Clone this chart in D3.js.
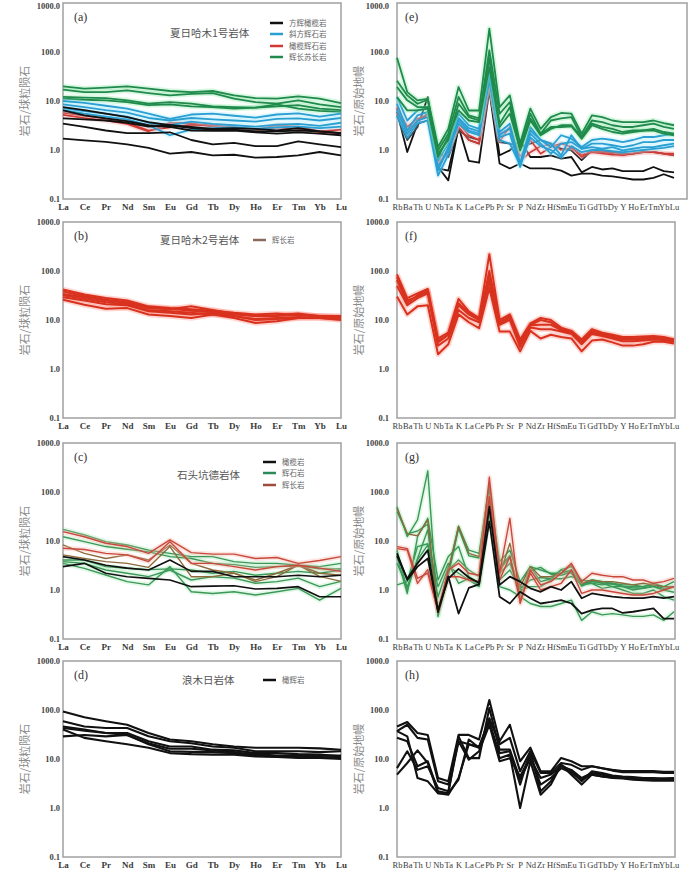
<!DOCTYPE html>
<html>
<head>
<meta charset="utf-8">
<script src="https://cdn.jsdelivr.net/npm/d3@7"></script>
<style>
  body { margin: 0; background: #fff; }
  svg { display: block; }
</style>
</head>
<body>
<script>
// categories
const REE = ['La','Ce','Pr','Nd','Sm','Eu','Gd','Tb','Dy','Ho','Er','Tm','Yb','Lu'];
const SPIDER = ['Rb','Ba','Th','U','Nb','Ta','K','La','Ce','Pb','Pr','Sr','P','Nd','Zr','Hf','Sm','Eu','Ti','Gd','Tb','Dy','Y','Ho','Er','Tm','Yb','Lu'];
const Y_TICKS = [0.1, 1, 10, 100, 1000];

// (a) 夏日哈木1号岩体, REE
const A_BLACK = [
  [7.5,6.5,5.5,4.7,3.7,3.2,2.95,2.7,2.8,2.7,2.5,2.8,2.4,2.2],
  [6.4,5.1,4.4,3.9,3.2,2.95,2.5,2.45,2.5,2.3,2.15,2.3,2.15,2.0],
  [4.4,4.2,4.0,3.6,3.0,3.2,2.8,2.6,2.6,2.4,2.4,2.5,2.4,2.2],
  [3.45,2.95,2.5,2.2,2.2,2.3,1.6,1.3,1.4,1.2,1.2,1.5,1.3,1.15],
  [1.7,1.57,1.46,1.3,1.1,0.84,0.91,0.78,0.8,0.7,0.72,0.78,0.91,0.78]
];
const A_BLUE = [
  [10,9.2,8,7,5.5,4.3,5.3,5.5,5,4.6,5.3,5.6,4.8,5.5],
  [8.5,7.5,6.5,5.8,4.5,4,4.5,4.2,4,3.8,4.3,4.4,4,4.5],
  [7.2,6.2,5.5,4.8,3.6,3.2,3.8,3.4,3.2,3,3.3,3.4,3.1,3.6],
  [6.5,5.5,4.8,4.2,3.2,2,2.6,2.8,2.9,2.7,2.9,3,2.8,3]
];
const A_RED = [
  [5.8,5,4.4,3.6,2.5,2.9,3.3,3.2,2.9,2.6,3.2,3,2.4,2.6],
  [5.2,4.5,4,3.4,2.4,3.6,3.5,3,2.8,2.5,2.9,2.7,2.3,2.2]
];
const A_GREEN = [
  [19.9,17.9,18.7,19.9,17.9,16,15.2,16,13,11.5,11.2,12.4,11.2,9.1],
  [17,15.2,15.2,16.5,14.5,13,14,14.5,11.2,9.5,8.8,10.3,8.5,7.5],
  [12.1,11.7,11.5,10.3,8.8,9.5,8.8,7.8,7.5,7.3,7.8,8.2,7,6.5],
  [11.2,10.6,10.3,9.5,8.2,8.5,7.8,7.5,7,7.3,8.5,7,6.3,6]
];

// (b) 夏日哈木2号岩体, REE
const B_RED = [
  [42,33,28,25,19,17.5,16.5,15.5,14,13,13.5,12.5,12,12],
  [38,31,26,23,18,17,15.5,14.5,13,12,12,13,12,11],
  [34,29,25,22.5,17.5,16.5,19,16,13.5,12,12.5,13.5,12,11.5],
  [32,27,23,21,16,15,14,13,12,10.5,11,11.5,11,10.5],
  [29,25,21,20,15,14,13,14,12,10,10.5,11,11,10],
  [26,20.5,17,17.5,13,12,11,13,11,8.7,9.4,11,11.5,11]
];

// (c) 石头坑德岩体, REE
const C_BLACK = [
  [4.8,4.1,3.2,2.8,2.56,4.1,2.4,2.4,1.87,1.87,1.87,2,1.87,2],
  [3,3.5,2.2,1.87,1.73,1.6,1.17,1.2,1.22,1.05,1.08,1.17,0.73,0.73]
];
const C_GREEN = [
  [17.3,13.3,9.7,8.3,6.5,5.6,4.8,4.8,3.8,3.5,3.5,3.2,3,3.5],
  [12.2,9.7,7.7,6.8,6,4.8,4.4,3.5,3.3,2.9,3,3.1,2.7,2.7],
  [3.8,3.5,2.56,2.2,1.87,2.56,1.6,1.87,1.75,1.37,1.48,1.75,1.17,1.5],
  [3.5,2.77,2.02,1.48,1.27,3,0.92,0.85,0.92,0.79,0.92,1.08,0.62,1.08],
  [4.1,4.1,3,2.77,2.6,2.7,2.56,2.2,2.4,2,2.2,2.4,2.2,2.56]
];
const C_RED = [
  [15.5,12.2,9,7.7,5.6,10.5,5.8,5.4,5.4,4.4,4.6,3.5,4,4.8],
  [7.1,6.7,5.6,5.2,3.8,9.7,3.5,3.5,3,2.56,3,3.2,2.8,2.4]
];
const C_BROWN = [
  [5.2,4.4,3.8,3.5,2.9,7.7,1.87,1.87,2.2,1.48,1.87,3.2,2.2,2],
  [8.3,5.6,4.4,5.2,4.1,8.3,3.5,2.56,2.2,1.6,2.2,3.2,1.9,1.5]
];

// (d) 浪木日岩体, REE
const D_BLACK = [
  [93,71,59,50,34,25,23,20,18,17,17,17,16.5,15.5],
  [59,46,43,43,29,23,21,18,17,14.4,14.4,14.4,13.8,14.4],
  [46,40,34,34,23,18,18,15.5,15,13.2,13.2,12.6,12.3,11.3],
  [43,38,34,31,21,16.2,16.2,15,13.8,11.7,11.3,10.9,10.9,10.5],
  [29,31,29,31,20,14.4,14,13.8,13.2,12.6,11.7,11.7,11.7,11.7],
  [40,27,23,20,17,13.2,12.6,12.3,12.3,11.3,11,10.5,10.5,10]
];

// (e) spider, 夏日哈木1号
const E_BLACK = [
  [6,0.91,3.45,4,0.45,0.24,2.95,0.6,0.55,16.5,0.53,0.42,0.53,0.42,0.42,0.42,0.38,0.3,0.33,0.33,0.3,0.29,0.27,0.25,0.25,0.27,0.32,0.27],
  [5.1,1.6,2.95,12,0.42,0.38,2.95,1.6,1.35,22,0.78,0.98,1.6,0.72,0.72,0.78,0.67,0.72,0.35,0.45,0.4,0.42,0.37,0.37,0.37,0.45,0.37,0.35],
  [7,2.15,4,5.5,0.84,0.72,2.5,1.84,1.6,18,1.45,1.35,1.15,1.35,1.6,1.35,1.06,0.98,0.62,0.98,0.91,0.91,0.84,0.84,0.91,0.91,0.84,0.78]
];
const E_RED = [
  [7.5,2.95,4.4,4.7,0.53,1.06,2.95,1.6,1.35,22,2.15,2.7,0.72,1.6,0.84,1.15,1.35,1.15,0.72,0.98,0.91,0.84,0.78,0.84,0.91,0.91,0.84,0.78],
  [6,2.5,4,5,0.5,0.9,3.5,2,1.6,30,1.5,3,0.6,0.9,1.2,1.3,1,1.1,0.8,0.9,0.85,0.8,0.8,0.85,0.9,0.9,0.85,0.85]
];
const E_BLUE = [
  [12,4,6.45,7.5,0.62,1.35,5.5,3.2,2.7,85,2.33,3.45,0.53,2.95,1.6,1.15,2,1.7,1.15,1.6,1.7,1.6,1.45,1.6,1.84,1.84,2,2.15],
  [8.8,2.5,5.1,6,0.38,1.15,4,2.5,2.15,26,1.84,2.15,0.45,2.15,1.35,0.84,1.35,1.45,1.06,1.35,1.35,1.25,1.15,1.25,1.45,1.45,1.6,1.6],
  [6.45,2.15,4,4.7,0.45,0.98,3.45,2.33,2,31,1.6,1.35,0.49,2.5,1.6,1.35,0.78,2,1.06,1.15,1.06,1.15,0.98,1.06,1.15,1.15,1.25,1.35],
  [5,1.8,3.5,4,0.3,0.8,4.5,2.8,2.4,40,2,2.8,0.5,1.8,1.2,1,0.7,1.2,0.9,1,1,0.95,0.9,0.95,1,1.05,1.1,1.2]
];
const E_GREEN = [
  [76,15.2,10.3,11.1,1.15,2.7,19.3,6.4,6.4,300,7.5,13,1.35,7,2.7,4.7,5.7,5.5,2.15,5.1,4.7,4,3.7,3.7,3.7,4,3.55,3.2],
  [26,13,8.8,10.6,0.98,2.15,12.1,5.1,4.4,108,5.5,9.5,1.15,5.5,2.15,4,4.4,4.7,1.84,4,3.7,3.2,2.95,2.95,3.2,3.45,2.95,2.7],
  [19.3,10.3,7.5,7.5,0.84,1.6,8.8,4.7,4,73,3.45,7.5,0.98,4,2,2.7,3.2,3.2,1.84,3.45,2.95,2.7,2.33,2.5,2.5,2.7,2.33,2.15],
  [12.1,6.45,6.45,7,0.72,1.84,6.45,4,3.7,49,2.95,5.5,1.06,4.4,2.15,2.95,2.95,3.05,1.7,3.2,2.7,2.33,2.15,2.33,2.5,2.5,2.15,2]
];

// (f) spider, 夏日哈木2号
const F_RED = [
  [85,28,35,43,4.2,5.5,27,15,11,220,10,13,4,8.5,11,10,7,6,4,6.5,5.5,5,4.5,4.5,4.6,4.7,4.5,4],
  [65,22,32,40,3.5,5,20,13,10,100,9,12,3.3,7.8,8,8,6.2,5.5,3.5,5.5,5,4.5,4,4,4.1,4.2,4,3.8],
  [50,20,28,35,3,4.2,16,11,9,60,8,10,2.8,7,6.5,6.5,5.8,5.2,3.2,5.2,4.7,4.2,3.7,3.7,3.8,4,3.9,3.6],
  [30,13,19,20,2,3.2,13,9,6.8,45,5.8,5.8,2.3,6,4.2,5,4.5,4.2,2.3,3.8,4,3.5,3,3,3.2,3.6,3.6,3.3],
  [75,25,30,38,3.8,5,22,14,10.5,80,8.5,11,3.5,8,10,9,6.5,5.8,3.7,6,5.2,4.7,4.2,4.2,4.3,4.4,4.2,3.9]
];

// (g) spider, 石头坑德
const G_BLACK = [
  [5.6,1.6,3,4.4,0.39,1.7,2.7,1.8,1.4,50,1.27,1.87,1.48,1.08,0.92,1.17,1,1.48,0.68,0.85,0.79,0.73,0.7,0.68,0.68,0.73,0.68,0.73],
  [5,1.7,3.5,6.5,0.35,1.9,0.33,1.1,1.3,25,0.73,0.53,0.92,0.68,0.53,0.57,0.62,0.53,0.33,0.39,0.42,0.42,0.34,0.36,0.39,0.42,0.26,0.26]
];
const G_GREEN = [
  [50,12.3,27,270,0.29,2.2,20,6.5,5.6,130,2.56,4.8,0.73,3,2.56,2.2,2.2,2.56,1.27,1.6,1.48,1.37,1.27,1.27,1.17,1.37,1.17,1.48],
  [1.27,1.48,7.7,8.8,1.17,3.5,1.37,1.73,1.27,36,2.2,3.5,1,1.17,1.17,1.6,2.56,2.2,1.27,1.37,1.08,1.17,1,0.85,0.85,1,0.73,0.62],
  [4.8,0.85,12.2,29,1.6,4.8,7.7,1.87,1.4,80,3.8,6.5,1.48,3,1.48,1.7,1.7,1.87,1.6,1.48,1.37,1.17,1.17,1,1.08,1.17,1,1.17],
  [3.5,1.17,4.1,8.3,0.73,3,2.2,1.6,1.17,43,1.17,1,0.73,0.53,0.46,0.46,0.53,0.62,0.24,0.36,0.31,0.33,0.31,0.29,0.29,0.31,0.24,0.36],
  [6.5,1,4.4,17,0.39,2.56,4.1,2.56,1.87,58,1.6,2.56,1.08,1.6,1.8,1.7,2.6,3,1.37,1.37,1.27,1.37,1.17,1.17,1.17,1.27,1.08,1.17],
  [40,14,16,22,0.3,2,18,5,4.5,100,3,5,0.8,2.5,2.9,2.1,2,2.3,1.2,1.5,1.4,1.3,1.2,1.1,1.1,1.2,1,0.9]
];
const G_RED = [
  [7.7,7,1.73,2.2,0.36,2.56,3.5,2.2,2,200,2.2,29,0.53,2.56,1.27,1.48,2.2,3.5,1.48,2.2,2,1.87,1.87,1.6,1.6,1.37,1.48,1.73],
  [7,6.5,1.37,2.6,0.38,1.87,1.87,1.6,1.5,80,1.6,4.8,0.6,2.2,1,1.17,1.37,2.56,0.85,1,1,0.92,0.85,0.79,0.79,0.85,1,1.17]
];
const G_BROWN = [
  [46,14,12.8,27,0.36,2.56,20,5.6,4.8,150,2,9,1.17,3,1.87,1.87,2.2,3.2,1.37,1.6,1.48,1.48,1.37,1.27,1.37,1.27,1.17,1.17]
];

// (h) spider, 浪木日
const H_BLACK = [
  [46,57,34,31,4.1,3.5,31,31,25,160,23,50,9,17,5.6,5.6,10.5,9,7.1,7.1,6.5,6,5.7,5.7,5.7,5.7,5.5,5.5],
  [37,50,27,25,3.5,3,23,20,17,68,20,27,5.6,14.4,5.2,5.2,8.3,7.6,6,7.1,6.5,5.8,5.4,5.4,5.4,5.4,5.2,5.2],
  [27,23,7.1,9,2.2,2,29,10.4,10.4,110,15.5,15.5,3.8,10.4,4.1,4.8,7.1,6,4.1,5.2,4.8,4.4,4.1,4.1,4,3.9,4,4.1],
  [4.8,8.3,15,8.3,2,1.87,4.1,20,18,58,10.4,12.3,1,9,1.87,3,7.6,4.8,3,4.8,4.4,4.1,4,3.8,3.7,3.6,3.6,3.6],
  [37,29,4.1,3.5,2,2,3.8,25,17,54,13.2,14.4,3,14.4,2.2,3.5,7.6,5.6,3.5,5.6,5.2,4.6,4.4,4.3,4.1,4.1,4,4],
  [6.5,14.4,6,7.1,2.56,2.2,23,9.7,14.4,50,9,10.4,4.4,11.3,3,4.1,6.5,5.2,3.8,4.8,4.4,4.2,4.1,4,3.9,3.9,3.9,3.9]
];

const SERIF = '"Liberation Serif", "DejaVu Serif", serif';
const CJK = '"Noto Sans CJK SC", sans-serif';

const svg = d3.select('body').append('svg')
  .attr('width', 692)
  .attr('height', 871)
  .style('background', '#fff');

function drawPanel(p) {
  const y = d3.scaleLog().domain([0.1, 1000]).range([p.y1, p.y0]);
  const x = d3.scalePoint().domain(p.cats).range([p.x0, p.xEnd]);
  const g = svg.append('g');

  g.append('rect')
    .attr('x', p.x0).attr('y', p.y0)
    .attr('width', p.x1 - p.x0).attr('height', p.y1 - p.y0)
    .attr('fill', 'none').attr('stroke', '#a0a0a0').attr('stroke-width', 1.5);

  // y axis
  const yAxis = d3.axisLeft(y).tickValues(Y_TICKS).tickFormat(d3.format('.1f')).tickSize(0).tickPadding(p.yPad);
  const ya = g.append('g').attr('transform', 'translate(' + p.x0 + ',0)').call(yAxis);
  ya.select('.domain').remove();
  ya.selectAll('text')
    .style('font-family', SERIF).style('font-size', '8.5px').style('font-weight', 'bold').attr('fill', '#444');
  // keep the top label of the first row inside the page
  if (p.y0 < 10) ya.selectAll('text').filter(d => d === 1000).attr('dy', '0.62em');

  // x axis
  const xAxis = d3.axisBottom(x).tickSize(0).tickPadding(5);
  const xa = g.append('g').attr('transform', 'translate(0,' + p.y1 + ')').call(xAxis);
  xa.select('.domain').remove();
  xa.selectAll('text')
    .style('font-family', SERIF).style('font-size', p.xFont + 'px').style('font-weight', p.xWeight).attr('fill', '#3a3a3a');

  // y title
  g.append('text')
    .attr('transform', 'translate(' + p.titleX + ',' + ((p.y0 + p.y1) / 2) + ') rotate(-90)')
    .attr('text-anchor', 'middle').attr('dy', '0.35em')
    .style('font-family', CJK).style('font-size', '11px').attr('fill', '#8a8a8a')
    .text(p.ytitle);

  // panel label
  g.append('text')
    .attr('x', p.labX).attr('y', p.y0 + 18)
    .style('font-family', SERIF).style('font-size', '12px').attr('fill', '#333')
    .text(p.label);

  const line = d3.line().x((d, i) => x(p.cats[i])).y(d => y(d));

  p.series.forEach(s => {
    s.rows.forEach(r => {
      if (s.halo) {
        g.append('path').attr('d', line(r)).attr('fill', 'none')
          .attr('stroke', s.halo).attr('stroke-width', s.width + 3.5)
          .attr('stroke-opacity', 0.3).attr('stroke-linejoin', 'round');
      }
    });
    s.rows.forEach(r => {
      g.append('path').attr('d', line(r)).attr('fill', 'none')
        .attr('stroke', s.color).attr('stroke-width', s.width)
        .attr('stroke-linejoin', 'round');
    });
  });

  if (p.title) {
    g.append('text')
      .attr('x', p.title.x).attr('y', p.title.y)
      .style('font-family', CJK).style('font-size', '10.5px').attr('fill', '#555')
      .text(p.title.text);
  }
  if (p.legend) {
    p.legend.forEach(l => {
      g.append('line')
        .attr('x1', l.x).attr('x2', l.x + 13).attr('y1', l.y).attr('y2', l.y)
        .attr('stroke', l.color).attr('stroke-width', 2.5);
      g.append('text')
        .attr('x', l.x + 19).attr('y', l.y).attr('dy', '0.35em')
        .style('font-family', CJK).style('font-size', '7.5px').attr('fill', '#666')
        .text(l.text);
    });
  }
}

const LEFT = { x0: 63, x1: 341, xEnd: 341, cats: REE, yPad: 3, xFont: 9, xWeight: 'bold', titleX: 25, labX: 74, ytitle: '岩石/球粒陨石' };
const RIGHT = { x0: 397, x1: 675, xEnd: 674, cats: SPIDER, yPad: 8, xFont: 8.5, xWeight: 'normal', titleX: 359, labX: 405, ytitle: '岩石/原始地幔' };

const BLACK = '#111';
const BLUE = '#2a9fd2';
const RED = '#cf3a35';
const GREEN = '#1f8a4c';

drawPanel(Object.assign({}, LEFT, {
  y0: 3, y1: 199, label: '(a)',
  title: { x: 170, y: 37, text: '夏日哈木1号岩体' },
  legend: [
    { x: 270, y: 23, color: BLACK, text: '方辉橄榄岩' },
    { x: 270, y: 34, color: BLUE, text: '斜方辉石岩' },
    { x: 270, y: 46, color: RED, text: '橄榄辉石岩' },
    { x: 270, y: 57, color: GREEN, text: '辉长苏长岩' }
  ],
  series: [
    { rows: A_GREEN, color: GREEN, halo: '#7fe39a', width: 1.8 },
    { rows: A_RED, color: RED, halo: '#f0a0a0', width: 1.6 },
    { rows: A_BLUE, color: BLUE, halo: '#9ee8ff', width: 1.8 },
    { rows: A_BLACK, color: BLACK, halo: null, width: 1.8 }
  ]
}));

drawPanel(Object.assign({}, RIGHT, {
  x1: 687, y0: 3, y1: 199, label: '(e)',
  series: [
    { rows: E_BLACK, color: BLACK, halo: null, width: 1.8 },
    { rows: E_RED, color: RED, halo: '#f0a0a0', width: 1.6 },
    { rows: E_BLUE, color: BLUE, halo: '#9ee8ff', width: 1.8 },
    { rows: E_GREEN, color: GREEN, halo: '#7fe39a', width: 1.8 }
  ]
}));

drawPanel(Object.assign({}, LEFT, {
  y0: 222, y1: 418, label: '(b)',
  title: { x: 160, y: 244, text: '夏日哈木2号岩体' },
  legend: [{ x: 253, y: 240, color: '#8a6a5a', text: '辉长岩' }],
  series: [{ rows: B_RED, color: '#d8321f', halo: '#ff7a6a', width: 2 }]
}));

drawPanel(Object.assign({}, RIGHT, {
  y0: 222, y1: 418, label: '(f)',
  series: [{ rows: F_RED, color: '#d8321f', halo: '#ff7a6a', width: 2 }]
}));

drawPanel(Object.assign({}, LEFT, {
  y0: 443, y1: 639, label: '(c)',
  title: { x: 177, y: 479, text: '石头坑德岩体' },
  legend: [
    { x: 263, y: 462, color: BLACK, text: '橄榄岩' },
    { x: 263, y: 473, color: '#2a8a5a', text: '辉石岩' },
    { x: 263, y: 485, color: '#a04a3a', text: '辉长岩' }
  ],
  series: [
    { rows: C_GREEN, color: '#3c9858', halo: '#9be8b0', width: 1.4 },
    { rows: C_BROWN, color: '#8c6a3c', halo: null, width: 1.4 },
    { rows: C_RED, color: '#c8493c', halo: '#f4a89a', width: 1.4 },
    { rows: C_BLACK, color: BLACK, halo: null, width: 1.6 }
  ]
}));

drawPanel(Object.assign({}, RIGHT, {
  y0: 443, y1: 639, label: '(g)',
  series: [
    { rows: G_GREEN, color: '#3c9858', halo: '#9be8b0', width: 1.4 },
    { rows: G_BROWN, color: '#8c6a3c', halo: null, width: 1.4 },
    { rows: G_RED, color: '#c8493c', halo: '#f4a89a', width: 1.4 },
    { rows: G_BLACK, color: BLACK, halo: null, width: 1.8 }
  ]
}));

drawPanel(Object.assign({}, LEFT, {
  y0: 661, y1: 857, label: '(d)',
  title: { x: 182, y: 684, text: '浪木日岩体' },
  legend: [{ x: 263, y: 680, color: BLACK, text: '橄辉岩' }],
  series: [{ rows: D_BLACK, color: BLACK, halo: null, width: 2.1 }]
}));

drawPanel(Object.assign({}, RIGHT, {
  y0: 661, y1: 857, label: '(h)',
  series: [{ rows: H_BLACK, color: BLACK, halo: null, width: 2.1 }]
}));
</script>
</body>
</html>
